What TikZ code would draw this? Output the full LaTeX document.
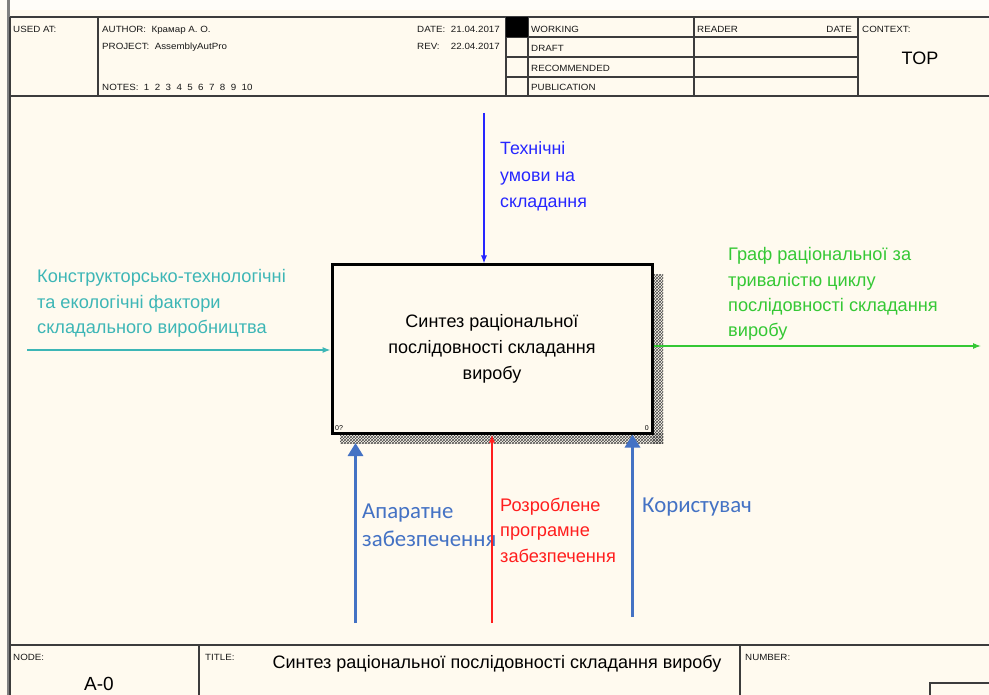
\documentclass[tikz,border=0pt]{standalone}
\usepackage{fontspec}
\setmainfont{Liberation Sans}
\newfontfamily\calibri{Carlito}
\newfontfamily\formfont[FakeStretch=1.085]{Liberation Sans}
\usetikzlibrary{arrows.meta,patterns}

\definecolor{paper}{HTML}{FFFAEF}
\definecolor{frameline}{HTML}{3C3C3C}
\definecolor{teal}{HTML}{3DB6B6}
\definecolor{outgreen}{HTML}{35C835}
\definecolor{ctlblue}{HTML}{2626FF}
\definecolor{mechblue}{HTML}{4472C4}
\definecolor{swred}{HTML}{FF1E1E}

\tikzset{
  frame/.style={draw=frameline, line width=1.4pt},
  hdr/.style={font=\formfont\fontsize{9}{10}\selectfont, inner sep=0pt, anchor=base west, text=black!90},
  lbl/.style={font=\fontsize{18.2}{25.5}\selectfont, inner sep=0pt, anchor=base west, align=left},
  calb/.style={font=\calibri\fontsize{22.8}{28}\selectfont, inner sep=0pt, anchor=base west, align=left},
  func/.style={draw=black, line width=3pt, fill=paper, minimum width=320pt, minimum height=168pt,
    inner sep=0pt, align=center, font=\fontsize{18}{26}\selectfont},
  thin/.style={line width=1.1pt, -{Latex[length=8pt,width=6pt]}},
  thick/.style={line width=3pt, -{Triangle[length=13pt,width=15pt]}},
}

\begin{document}
\begin{tikzpicture}[x=1pt,y=-1pt]
\useasboundingbox (0,0) rectangle (989,695);
\fill[paper] (0,0) rectangle (989,695);
\fill[white!60!paper] (0,0) rectangle (989,10);

% left sheet edge
\draw[black!50, line width=2.5pt] (8.5,0) -- (8.5,695);

% header block
\draw[frame] (10,17) -- (989,17);
\draw[frame] (10,96) -- (989,96);
\draw[frame] (10,17) -- (10,695);
\foreach \x in {98,506,528,694,858} \draw[frame] (\x,17) -- (\x,96);
\foreach \y in {37,57,77} \draw[frame] (506,\y) -- (858,\y);
\fill[black] (506,17) rectangle (528,37);

\node[hdr] (usedat) at (13,32.5) {USED AT:};
\node[hdr] (author) at (102,32.5) {AUTHOR:\ \ Крамар А. О.};
\node[hdr] (project) at (102,49.5) {PROJECT:\ \ AssemblyAutPro};
\node[hdr] (notes) at (102,90.5) {NOTES:\ \ 1\ \ 2\ \ 3\ \ 4\ \ 5\ \ 6\ \ 7\ \ 8\ \ 9\ \ 10};
\node[hdr] (datek) at (417,32.5) {DATE:};
\node[hdr, anchor=base east] (datev) at (500,32.5) {21.04.2017};
\node[hdr] (revk) at (417,49.5) {REV:};
\node[hdr, anchor=base east] (revv) at (500,49.5) {22.04.2017};
\node[hdr] (working) at (531,32.5) {WORKING};
\node[hdr] (draft) at (531,51.5) {DRAFT};
\node[hdr] (recom) at (531,72) {RECOMMENDED};
\node[hdr] (public) at (531,90.5) {PUBLICATION};
\node[hdr] (reader) at (697,32.5) {READER};
\node[hdr, anchor=base east] (rdate) at (852,32.5) {DATE};
\node[hdr] (context) at (862,32.5) {CONTEXT:};
\node[font=\fontsize{18}{20}\selectfont, inner sep=0pt, anchor=base] (top) at (920,64.5) {TOP};

% footer block
\draw[frame] (10,645) -- (989,645);
\draw[frame] (199,645) -- (199,695);
\draw[frame] (740,645) -- (740,695);
\draw[frame] (930,695) -- (930,683) -- (989,683);
\node[hdr] (nodek) at (13,660) {NODE:};
\node[hdr] (titlek) at (205,660) {TITLE:};
\node[hdr] (numberk) at (745,660) {NUMBER:};
\node[font=\fontsize{19}{20}\selectfont, inner sep=0pt, anchor=base] (nodev) at (99,690) {A-0};
\node[font=\fontsize{18}{20}\selectfont, inner sep=0pt, anchor=base] (titlev) at (497,668)
  {Синтез раціональної послідовності складання виробу};

% activity shadow
\fill[pattern=crosshatch, pattern color=black!70] (652,275) rectangle (663,443);
\fill[pattern=crosshatch, pattern color=black!70] (340,433) rectangle (663,443);

% activity box
\node[func] (func) at (492,349) {Синтез раціональної\\послідовності складання\\виробу};
\node[font=\fontsize{7}{8}\selectfont, inner sep=0pt, anchor=base west] (num1) at (335,430) {0?};
\node[font=\fontsize{7}{8}\selectfont, inner sep=0pt, anchor=base east] (num2) at (649,430) {0};

% free ends of the arrows
\coordinate (inS) at (27,350);
\coordinate (outE) at (981,346);
\coordinate (ctlS) at (484,113);
\coordinate (hwS) at (355.5,623);
\coordinate (swS) at (492,623);
\coordinate (usrS) at (632.5,617);
\coordinate (hwE) at (355.5,443);

% input (label anchored at the baseline of its last line)
\draw[thin, teal] (inS) -- (inS -| func.west);
\node[lbl, text=teal] (inlbl) at (37,334)
  {Конструкторсько-технологічні\\та екологічні фактори\\складального виробництва};

% output
\draw[thin, outgreen] (outE -| func.east) -- (outE);
\node[lbl, text=outgreen] (outlbl) at (728,337)
  {Граф раціональної за\\тривалістю циклу\\послідовності складання\\виробу};

% control
\draw[thin, ctlblue] (ctlS) -- (ctlS |- func.north);
\node[lbl, text=ctlblue, font=\fontsize{17.8}{26.5}\selectfont] (ctllbl) at (500,208)
  {Технічні\\умови на\\складання};

% mechanisms
\draw[thick, mechblue] (hwS) -- (hwE);
\node[calb, text=mechblue] (hwlbl) at (362,546) {Апаратне\\забезпечення};

\draw[thin, swred] (swS) -- (swS |- func.south);
\node[lbl, text=swred] (swlbl) at (500,562) {Розроблене\\програмне\\забезпечення};

\draw[thick, mechblue] (usrS) -- (usrS |- func.south);
\node[calb, text=mechblue] (usrlbl) at (642,512) {Користувач};
\end{tikzpicture}
\end{document}
